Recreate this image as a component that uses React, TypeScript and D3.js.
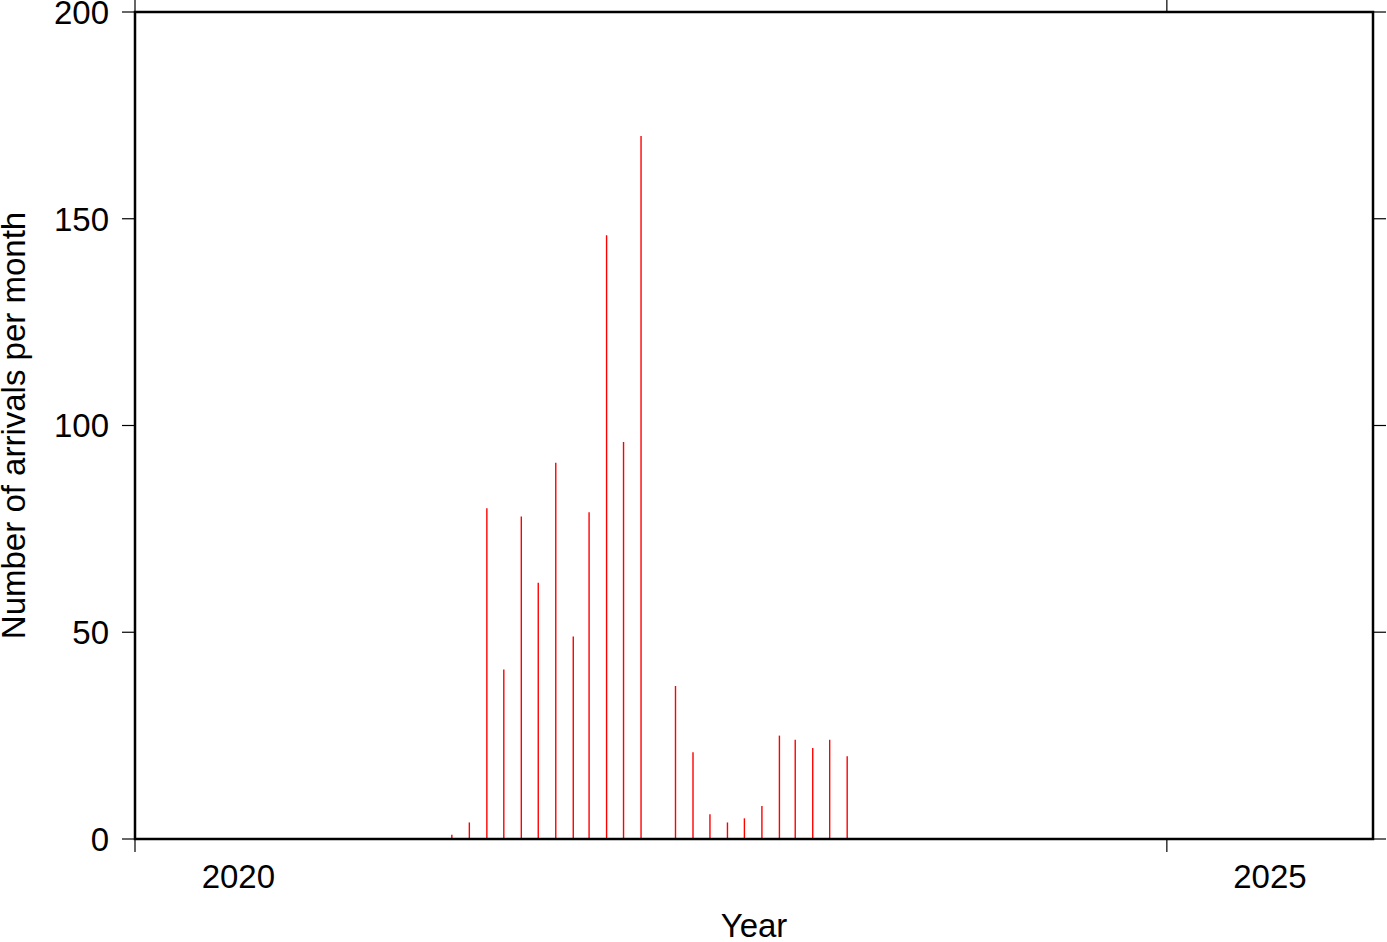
import React, { useEffect, useRef } from "react";
import * as d3 from "d3";

const months: string[] = [
  "2021-07", "2021-08", "2021-09", "2021-10", "2021-11", "2021-12",
  "2022-01", "2022-02", "2022-03", "2022-04", "2022-05", "2022-06",
  "2022-07", "2022-08", "2022-09", "2022-10", "2022-11", "2022-12",
  "2023-01", "2023-02", "2023-03", "2023-04", "2023-05", "2023-06",
];
const counts: number[] = [
  1, 4, 80, 41, 78, 62,
  91, 49, 79, 146, 96, 170,
  0, 37, 21, 6, 4, 5,
  8, 25, 24, 22, 24, 20,
];
const yTicks: number[] = [0, 50, 100, 150, 200];
const xTickYears: number[] = [2020, 2025];
const xLabelYears: number[] = [2020, 2025];

const W = 1387, H = 942;
const L = 135, R = 1373, T = 12, B = 839;
const FONT = "'Liberation Sans', Arial, Helvetica, sans-serif";
const FS = 33;

export default function App() {
  const ref = useRef<SVGSVGElement>(null);
  useEffect(() => {
    const svg = d3.select(ref.current);
    svg.selectAll("*").remove();
    const x = d3.scaleTime()
      .domain([new Date(2020, 0, 1), new Date(2026, 0, 1)])
      .range([L, R]);
    const y = d3.scaleLinear().domain([0, 200]).range([B, T]);
    const parse = d3.timeParse("%Y-%m");
    const data = months.map((m, i) => {
      const d = parse(m)!;
      return { date: new Date(d.getFullYear(), d.getMonth(), 15), v: counts[i] };
    });

    svg.append("g").selectAll("line").data(data.filter(d => d.v > 0)).join("line")
      .attr("x1", d => x(d.date)).attr("x2", d => x(d.date))
      .attr("y1", y(0)).attr("y2", d => y(d.v))
      .attr("stroke", "#ff0000").attr("stroke-width", 1.4);

    const g = svg.append("g");
    yTicks.forEach(t => {
      g.append("line").attr("x1", L - 13).attr("x2", L).attr("y1", y(t)).attr("y2", y(t))
        .attr("stroke", "#000").attr("stroke-width", 1.2);
      g.append("line").attr("x1", R).attr("x2", R + 13).attr("y1", y(t)).attr("y2", y(t))
        .attr("stroke", "#000").attr("stroke-width", 1.2);
      g.append("text").attr("x", L - 26).attr("y", y(t)).attr("dy", "0.36em")
        .attr("text-anchor", "end").attr("font-family", FONT).attr("font-size", FS)
        .text(String(t));
    });
    xTickYears.forEach(yr => {
      const px = x(new Date(yr, 0, 1));
      g.append("line").attr("x1", px).attr("x2", px).attr("y1", B).attr("y2", B + 13)
        .attr("stroke", "#000").attr("stroke-width", 1.2);
      g.append("line").attr("x1", px).attr("x2", px).attr("y1", T).attr("y2", T - 13)
        .attr("stroke", "#000").attr("stroke-width", 1.2);
    });
    xLabelYears.forEach(yr => {
      const cx = (x(new Date(yr, 0, 1)) + x(new Date(yr + 1, 0, 1))) / 2;
      g.append("text").attr("x", cx).attr("y", 888).attr("text-anchor", "middle")
        .attr("font-family", FONT).attr("font-size", FS).text(String(yr));
    });
    g.append("rect").attr("x", L).attr("y", T).attr("width", R - L).attr("height", B - T)
      .attr("fill", "none").attr("stroke", "#000").attr("stroke-width", 2.5);

    g.append("text").attr("x", (L + R) / 2).attr("y", 937).attr("text-anchor", "middle")
      .attr("font-family", FONT).attr("font-size", FS).text("Year");
    g.append("text").attr("transform", `translate(25, ${(T + B) / 2}) rotate(-90)`)
      .attr("text-anchor", "middle").attr("font-family", FONT).attr("font-size", FS)
      .text("Number of arrivals per month");
  }, []);
  return (
    <svg ref={ref} width={W} height={H}
      style={{ position: "absolute", left: 0, top: 0, background: "#fff" }} />
  );
}
